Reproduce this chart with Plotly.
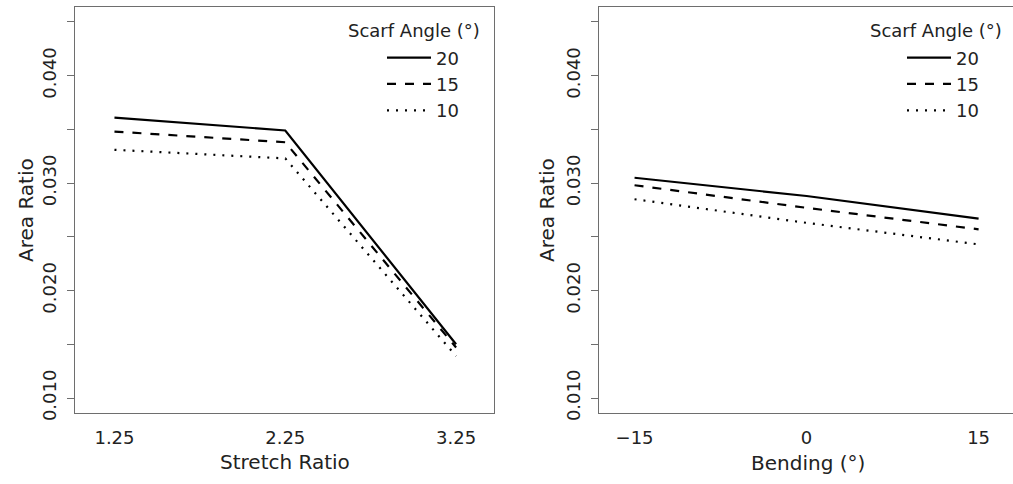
import plotly.graph_objects as go

# ---- data ----
stretch_ratio = [1.25, 2.25, 3.25]
stretch_labels = ["1.25", "2.25", "3.25"]
sr_angle20 = [0.0361, 0.0349, 0.0150]
sr_angle15 = [0.0348, 0.0338, 0.0147]
sr_angle10 = [0.0331, 0.0323, 0.0139]

bending = [-15, 0, 15]
bending_labels = ["\u221215", "0", "15"]
bd_angle20 = [0.0305, 0.0288, 0.0267]
bd_angle15 = [0.0298, 0.0277, 0.0257]
bd_angle10 = [0.0285, 0.0263, 0.0243]

scarf_angles = ["20", "15", "10"]
y_tickvals = [0.010, 0.015, 0.020, 0.025, 0.030, 0.035, 0.040, 0.045]
y_ticktext = ["0.010", "", "0.020", "", "0.030", "", "0.040", ""]

# ---- styling ----
W, H = 1013, 484
FONT = "DejaVu Sans"
TXT = "#222222"
FRAME = "#6e6e6e"
dashes = ["solid", "9px,9px", "2px,7px"]


def px_x(p):
    return p / W


def px_y(p):
    return 1 - p / H


fig = go.Figure()
for name, ys, dash in zip(scarf_angles, [sr_angle20, sr_angle15, sr_angle10], dashes):
    fig.add_trace(go.Scatter(x=stretch_ratio, y=ys, mode="lines", name=name,
                             line=dict(color="black", width=2.2, dash=dash),
                             xaxis="x", yaxis="y", legend="legend"))
for name, ys, dash in zip(scarf_angles, [bd_angle20, bd_angle15, bd_angle10], dashes):
    fig.add_trace(go.Scatter(x=bending, y=ys, mode="lines", name=name,
                             line=dict(color="black", width=2.2, dash=dash),
                             xaxis="x2", yaxis="y2", legend="legend2"))

ydom = [px_y(420), px_y(7)]
common_x = dict(showline=True, linecolor=FRAME, linewidth=1, showgrid=False, zeroline=False,
                ticks="outside", ticklen=8, tickcolor="rgba(0,0,0,0)",
                tickfont=dict(family=FONT, size=18, color=TXT))
common_y = dict(showline=True, linecolor=FRAME, linewidth=1, showgrid=False, zeroline=False,
                ticks="outside", ticklen=7, tickcolor=FRAME, tickwidth=1,
                tickvals=y_tickvals, ticktext=y_ticktext, tickangle=-90,
                ticklabelstandoff=4,
                range=[0.0086, 0.0464], domain=ydom,
                tickfont=dict(family=FONT, size=18, color=TXT))

legend_common = dict(bgcolor="rgba(0,0,0,0)", borderwidth=0, itemwidth=44,
                     font=dict(family=FONT, size=18, color=TXT),
                     xanchor="left", yanchor="top", tracegroupgap=0)

title_font = dict(family=FONT, size=20, color=TXT)
leg_title_font = dict(family=FONT, size=18, color=TXT)
ymid = (ydom[0] + ydom[1]) / 2

fig.update_layout(
    width=W, height=H, autosize=False,
    margin=dict(l=0, r=0, t=0, b=0),
    paper_bgcolor="white", plot_bgcolor="white",
    xaxis=dict(domain=[px_x(75), px_x(494)], range=[1.019, 3.472], anchor="y", mirror=True,
               tickvals=stretch_ratio, ticktext=stretch_labels, **common_x),
    yaxis=dict(anchor="x", mirror=True, **common_y),
    xaxis2=dict(domain=[px_x(599), 1.0], range=[-18.1, 18.0], anchor="y2", mirror=True,
                tickvals=bending, ticktext=bending_labels, **common_x),
    yaxis2=dict(anchor="x2", mirror=False, **common_y),
    legend=dict(x=px_x(382), y=px_y(40), **legend_common),
    legend2=dict(x=px_x(902), y=px_y(40), **legend_common),
    annotations=[
        dict(text="Area Ratio", x=px_x(26), y=ymid, xref="paper", yref="paper",
             xanchor="center", yanchor="middle",
             textangle=-90, showarrow=False, font=title_font),
        dict(text="Area Ratio", x=px_x(547), y=ymid, xref="paper", yref="paper",
             xanchor="center", yanchor="middle",
             textangle=-90, showarrow=False, font=title_font),
        dict(text="Stretch Ratio", x=px_x(285), y=px_y(470), xref="paper", yref="paper",
             xanchor="center", yanchor="middle", showarrow=False, font=title_font),
        dict(text="Bending (\u00b0)", x=px_x(808), y=px_y(471), xref="paper", yref="paper",
             xanchor="center", yanchor="middle", showarrow=False, font=title_font),
        dict(text="Scarf Angle (\u00b0)", x=px_x(482), y=px_y(31), xref="paper", yref="paper",
             xanchor="right", yanchor="middle", showarrow=False, font=leg_title_font),
        dict(text="Scarf Angle (\u00b0)", x=px_x(1004), y=px_y(31), xref="paper", yref="paper",
             xanchor="right", yanchor="middle", showarrow=False, font=leg_title_font),
    ],
)

fig.write_html("out.html", config={"displayModeBar": False},
               post_script="document.body.style.margin='0';")
